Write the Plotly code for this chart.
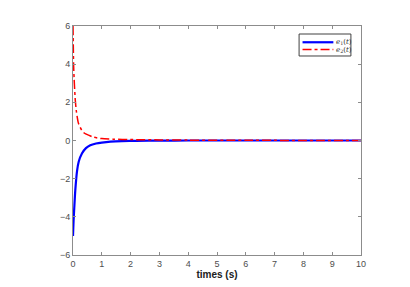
import plotly.graph_objects as go

t1 = [0, 0.01, 0.02, 0.045, 0.08, 0.14, 0.2, 0.31, 0.45, 0.6, 0.8, 1.0, 1.3, 1.7, 2.2, 3.0, 4.0, 6.0, 10.0]
e1 = [-5.0, -4.6, -4.2, -3.5, -2.6, -1.6, -1.1, -0.68, -0.4, -0.25, -0.16, -0.11, -0.06, -0.03, -0.015, -0.005, 0.0, 0.0, 0.0]

t2 = [0, 0.01, 0.02, 0.04, 0.08, 0.12, 0.19, 0.3, 0.4, 0.54, 0.7, 1.0, 1.4, 2.0, 3.0, 4.0, 6.0, 10.0]
e2 = [6.0, 5.0, 4.0, 3.2, 2.1, 1.5, 0.9, 0.55, 0.38, 0.28, 0.18, 0.1, 0.07, 0.05, 0.03, 0.02, 0.01, 0.0]

x_ticks = [0, 1, 2, 3, 4, 5, 6, 7, 8, 9, 10]
y_ticks = [-6, -4, -2, 0, 2, 4, 6]

names = ["<i>e</i><sub>1</sub>(<i>t</i>)", "<i>e</i><sub>2</sub>(<i>t</i>)"]
colors = ["#0000ff", "#ff0000"]
dashes = ["solid", "dashdot"]
widths = [2.2, 1.5]

fig = go.Figure()
fig.add_trace(go.Scatter(x=t1, y=e1, mode="lines", name=names[0], showlegend=False,
                         line=dict(color=colors[0], width=widths[0], dash=dashes[0], shape="spline", smoothing=0.6)))
fig.add_trace(go.Scatter(x=t2, y=e2, mode="lines", name=names[1], showlegend=False,
                         line=dict(color=colors[1], width=widths[1], dash=dashes[1], shape="spline", smoothing=0.6)))

axis_common = dict(showgrid=False, zeroline=False, showline=True, linecolor="#8c8c8c", linewidth=1,
                   mirror="ticks", ticks="inside", ticklen=3, tickcolor="#8c8c8c",
                   tickfont=dict(family="Liberation Sans, Arial", size=9, color="#4d4d4d"))

# legend box (drawn manually to match the compact MATLAB legend)
box_x0, box_x1, box_y0, box_y1 = 0.785, 0.965, 0.965, 0.869
shapes = [dict(type="rect", xref="paper", yref="paper", x0=box_x0, x1=box_x1, y0=box_y1, y1=box_y0,
               line=dict(color="#404040", width=1), fillcolor="white", layer="above")]
annotations = []
rows_y = [0.929, 0.897]
for i in range(2):
    shapes.append(dict(type="line", xref="paper", yref="paper", x0=0.797, x1=0.904, y0=rows_y[i], y1=rows_y[i],
                       line=dict(color=colors[i], width=widths[i], dash=dashes[i]), layer="above"))
    annotations.append(dict(xref="paper", yref="paper", x=0.906, y=rows_y[i], xanchor="left", yanchor="middle",
                            text=names[i], showarrow=False,
                            font=dict(family="DejaVu Serif, Liberation Serif", size=7, color="#303030")))

fig.update_layout(
    width=410, height=287,
    margin=dict(l=65, r=57, t=18, b=40),
    paper_bgcolor="white", plot_bgcolor="white",
    xaxis=dict(range=[0, 10], tickvals=x_ticks, **axis_common,
               title=dict(text="<b>times (s)</b>", font=dict(family="Liberation Sans, Arial", size=10, color="#202020"), standoff=3)),
    yaxis=dict(range=[-6, 6], tickvals=y_ticks, **axis_common),
    shapes=shapes, annotations=annotations,
    showlegend=False,
)

fig.write_html("out.html")
